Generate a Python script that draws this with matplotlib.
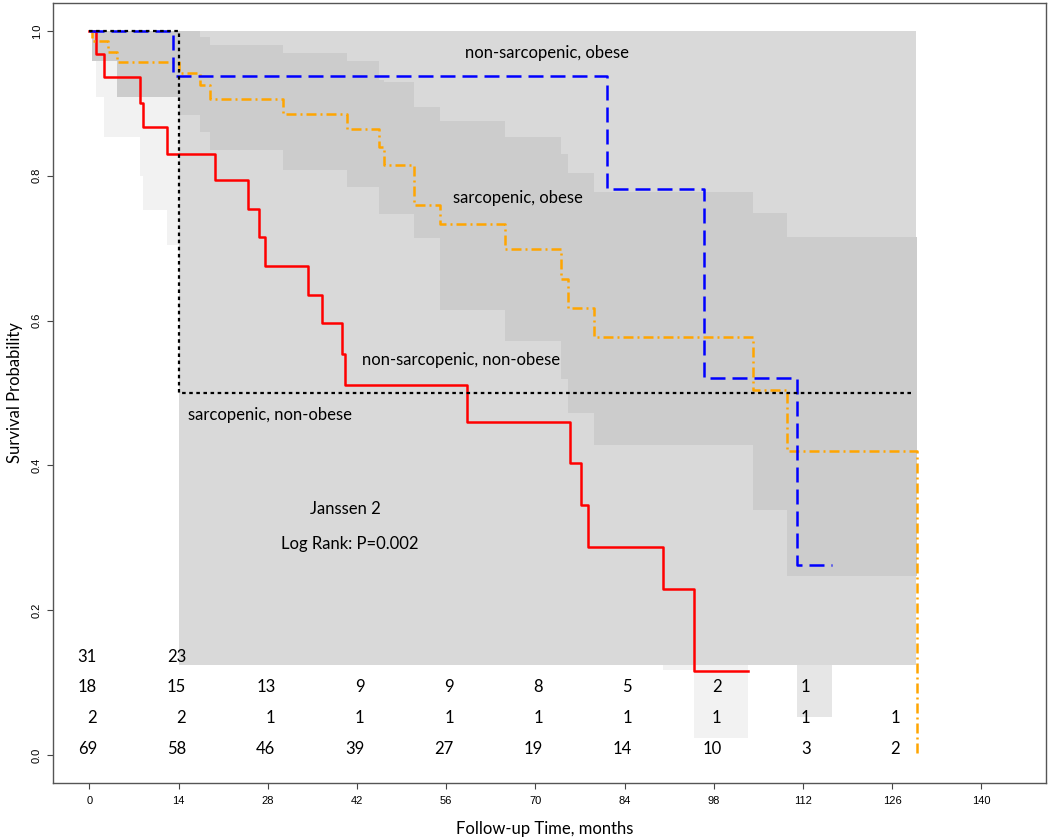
import matplotlib
matplotlib.use('Agg')
import matplotlib.pyplot as plt

# --- survival curves (time in months, survival) ---
red_t = [0, 1.05, 2.25, 8.0, 8.4, 12.2, 19.8, 24.9, 26.7, 27.5, 34.3, 36.5, 39.7, 40.1,
         59.3, 75.4, 77.2, 78.2, 90.0, 94.9]
red_s = [1.0, 0.968, 0.936, 0.901, 0.867, 0.830, 0.794, 0.754, 0.715, 0.675, 0.636, 0.597,
         0.554, 0.511, 0.460, 0.403, 0.345, 0.288, 0.230, 0.116]
red_lo = [1.0, 0.909, 0.854, 0.80, 0.753, 0.705, 0.66, 0.61, 0.57, 0.53, 0.49, 0.45, 0.41,
          0.37, 0.32, 0.26, 0.21, 0.16, 0.118, 0.023]
red_hi = [1.0, 1.0, 1.0, 1.0, 0.99, 0.97, 0.94, 0.91, 0.88, 0.85, 0.82, 0.78, 0.74, 0.70,
          0.66, 0.61, 0.55, 0.49, 0.43, 0.39]
red_end = 103.3

blue_t = [0, 13.2, 81.3, 96.4, 111.1]
blue_s = [1.0, 0.9375, 0.782, 0.521, 0.262]
blue_lo = [1.0, 0.82, 0.58, 0.30, 0.052]
blue_hi = [1.0, 1.0, 1.0, 0.93, 0.70]
blue_end = 116.5

black_t = [0, 14.0]
black_s = [1.0, 0.5]
black_lo = [1.0, 0.125]
black_hi = [1.0, 1.0]
black_end = 128.9
black_ci_end = 129.8

orange_t = [0, 0.47, 2.9, 4.3, 14.0, 17.3, 18.9, 30.4, 40.4, 45.5, 46.2, 51.0, 55.1, 65.3,
            74.1, 75.2, 79.2, 104.1, 109.5, 129.9]
orange_s = [1.0, 0.986, 0.971, 0.957, 0.942, 0.926, 0.906, 0.886, 0.864, 0.840, 0.815, 0.760,
            0.734, 0.699, 0.658, 0.617, 0.577, 0.504, 0.420, 0.0]
orange_lo = [1.0, 0.958, 0.958, 0.909, 0.884, 0.861, 0.836, 0.808, 0.785, 0.747, 0.747, 0.714,
             0.614, 0.572, 0.520, 0.473, 0.428, 0.339, 0.247]
orange_hi = [1.0, 1.0, 1.0, 1.0, 1.0, 0.992, 0.981, 0.969, 0.958, 0.932, 0.929, 0.895, 0.875,
             0.854, 0.830, 0.804, 0.777, 0.749, 0.715]

# numbers at risk
risk_times = [0, 14, 28, 42, 56, 70, 84, 98, 112, 126]
risk_red = [31, 23]
risk_blue = [18, 15, 13, 9, 9, 8, 5, 2, 1]
risk_black = [2, 2, 1, 1, 1, 1, 1, 1, 1, 1]
risk_orange = [69, 58, 46, 39, 27, 19, 14, 10, 3, 2]

txt_font = ['Lato', 'DejaVu Sans']
tick_font = ['Liberation Sans', 'DejaVu Sans']

fig = plt.figure(figsize=(10.5, 8.39), dpi=100)
ax = fig.add_axes([0.0505, 0.0667, 0.9454, 0.9297])

def band(t, lo, hi, end, col):
    ax.fill_between(list(t) + [end], list(lo) + [lo[-1]], list(hi) + [hi[-1]],
                    step='post', color=col, lw=0)

band(blue_t, blue_lo, blue_hi, blue_end, '#e6e6e6')
band(red_t, red_lo, red_hi, red_end, '#f2f2f2')
band(black_t, black_lo, black_hi, black_ci_end, '#d9d9d9')
band(orange_t[:-1], orange_lo, orange_hi, orange_t[-1], '#cccccc')

ax.step(red_t + [red_end], red_s + [red_s[-1]], where='post', color='#ff0000', lw=1.8)
ax.step(orange_t, orange_s, where='post', color='#ffa500', lw=1.8,
        dashes=(4, 1.6, 0.8, 1.6))
ax.step(blue_t + [blue_end], blue_s + [blue_s[-1]], where='post', color='#0000ff', lw=1.8,
        dashes=(6, 2.8))
ax.step(black_t + [black_end], black_s + [black_s[-1]], where='post', color='black', lw=1.6,
        dashes=(1.6, 1.6))

# at-risk table
rows = [(risk_red, 0.136), (risk_blue, 0.094), (risk_black, 0.051), (risk_orange, 0.008)]
for vals, yy in rows:
    for tt, v in zip(risk_times, vals):
        ax.text(tt + 1.2, yy, str(v), ha='right', va='center', fontsize=12,
                family=txt_font, zorder=5)

ax.text(71.9, 0.970, 'non-sarcopenic, obese', ha='center', va='center', fontsize=12, family=txt_font)
ax.text(67.3, 0.769, 'sarcopenic, obese', ha='center', va='center', fontsize=12, family=txt_font)
ax.text(58.3, 0.546, 'non-sarcopenic, non-obese', ha='center', va='center', fontsize=12, family=txt_font)
ax.text(28.3, 0.469, 'sarcopenic, non-obese', ha='center', va='center', fontsize=12, family=txt_font)
ax.text(40.2, 0.340, 'Janssen 2', ha='center', va='center', fontsize=12, family=txt_font)
ax.text(40.8, 0.292, 'Log Rank: P=0.002', ha='center', va='center', fontsize=12, family=txt_font)

ax.set_xlim(-5.7, 150.1)
ax.set_ylim(-0.0386, 1.0386)
ax.set_xticks(range(0, 141, 14))
ax.set_yticks([0.0, 0.2, 0.4, 0.6, 0.8, 1.0])
ax.set_yticklabels(['0.0', '0.2', '0.4', '0.6', '0.8', '1.0'], rotation=90, va='center')
for lab in ax.get_xticklabels() + ax.get_yticklabels():
    lab.set_family(tick_font)
    lab.set_fontsize(8)
ax.tick_params(axis='both', direction='out', length=4, width=0.8, color='#444444')
ax.tick_params(axis='x', pad=5)
ax.tick_params(axis='y', pad=4)
for sp in ax.spines.values():
    sp.set_color('#555555')
    sp.set_linewidth(1.0)

fig.text(15 / 1050, 1 - 393 / 839, 'Survival Probability', rotation=90, ha='center',
         va='center', fontsize=12, family=txt_font)
fig.text(545 / 1050, 1 - 829 / 839, 'Follow-up Time, months', ha='center', va='center',
         fontsize=12, family=txt_font)

fig.savefig('out.png', dpi=100)
